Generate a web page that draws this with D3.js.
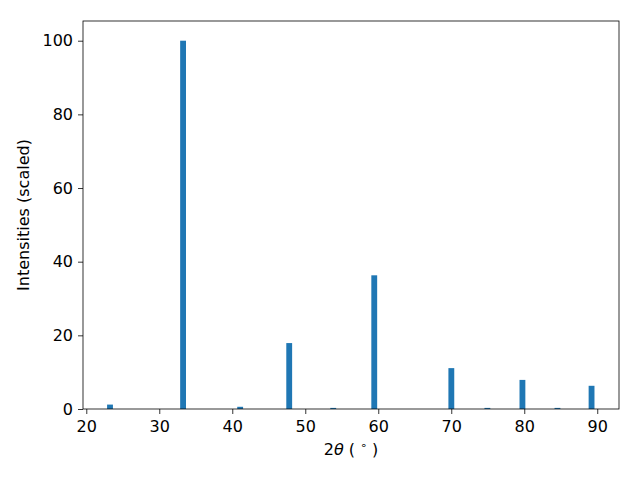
<!DOCTYPE html>
<html><head><meta charset="utf-8">
<script src="https://cdn.jsdelivr.net/npm/d3@7"></script>
<style>body{margin:0;background:#fff}svg{display:block}text{font-family:"DejaVu Sans",sans-serif}</style>
</head><body>
<svg id="c" width="640" height="480"></svg>
<script>
const twoTheta = [23.25, 33.26, 41.08, 47.80, 53.83, 59.45, 70.01, 74.95, 79.75, 84.55, 89.22];
const intensity = [1.2, 100, 0.6, 17.9, 0.3, 36.3, 11.1, 0.3, 7.9, 0.3, 6.3];
const xTicks = [20, 30, 40, 50, 60, 70, 80, 90];
const yTicks = [0, 20, 40, 60, 80, 100];
const barWidth = 0.8;

const L = 83, R = 619, T = 21, B = 409;
const FS = 16;
const svg = d3.select("#c");
const x = d3.scaleLinear().domain([19.55, 92.98]).range([L, R]);
const y = d3.scaleLinear().domain([0, 105.35]).range([B, T]);

svg.append("g").selectAll("rect").data(twoTheta).join("rect")
  .attr("x", (d) => x(d - barWidth / 2))
  .attr("width", (d) => x(d + barWidth / 2) - x(d - barWidth / 2))
  .attr("y", (d, i) => y(intensity[i]))
  .attr("height", (d, i) => B - y(intensity[i]))
  .attr("fill", "#1f77b4");

const xa = svg.append("g").attr("transform", `translate(0,${B})`)
  .call(d3.axisBottom(x).tickValues(xTicks).tickSize(5).tickPadding(7).tickFormat(d3.format("d")));
const ya = svg.append("g").attr("transform", `translate(${L},0)`)
  .call(d3.axisLeft(y).tickValues(yTicks).tickSize(5).tickPadding(5).tickFormat(d3.format("d")));
[xa, ya].forEach(a => {
  a.attr("font-size", FS).attr("font-family", "DejaVu Sans");
  a.select(".domain").remove();
  a.selectAll("line").attr("stroke", "#000").attr("stroke-width", 0.8);
  a.selectAll("text").attr("font-size", FS).attr("fill", "#000");
});

svg.append("rect").attr("x", L).attr("y", T).attr("width", R - L).attr("height", B - T)
  .attr("fill", "none").attr("stroke", "#000").attr("stroke-width", 0.8);

const xl = svg.append("text").attr("x", (L + R) / 2).attr("y", 455).attr("text-anchor", "middle").attr("font-size", FS);
xl.append("tspan").text("2");
xl.append("tspan").attr("font-style", "italic").text("θ");
xl.append("tspan").text(" ( ");
xl.append("tspan").attr("font-size", 11).attr("dy", -6).text("∘");
xl.append("tspan").attr("dy", 6).text(" )");

svg.append("text").attr("transform", `translate(29,${(T + B) / 2}) rotate(-90)`)
  .attr("text-anchor", "middle").attr("font-size", FS).text("Intensities (scaled)");
</script>
</body></html>
